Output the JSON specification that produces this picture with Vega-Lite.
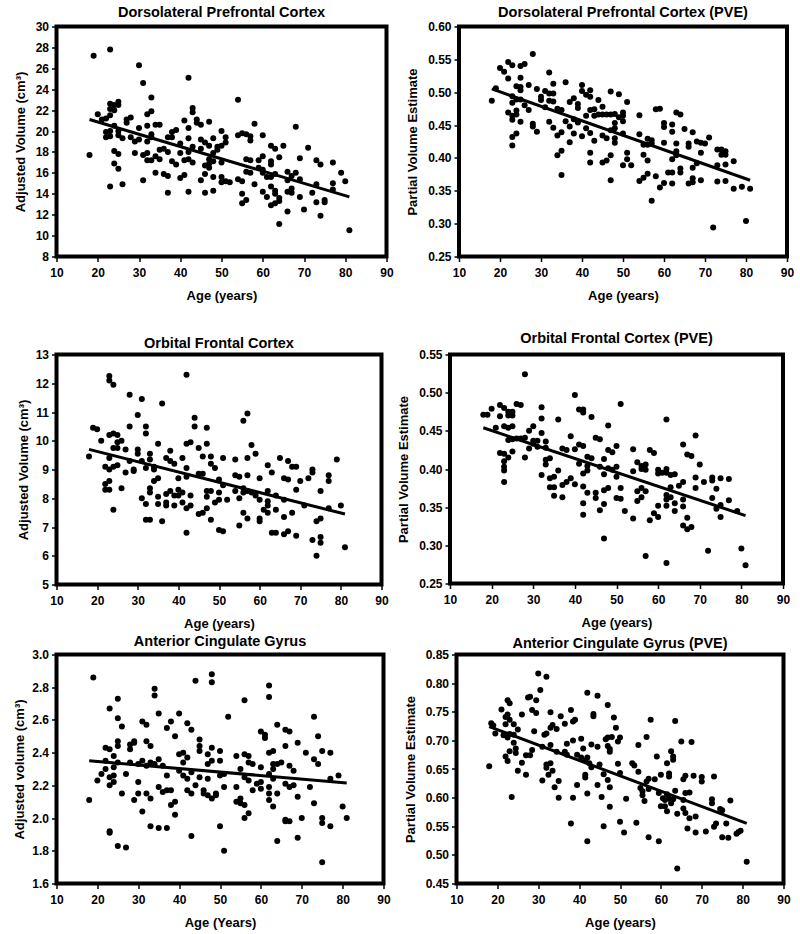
{
"$schema": "https://vega.github.io/schema/vega-lite/v6.json",
"padding": {"left": 10.5, "top": 2.5, "right": 5, "bottom": 5},
"config": {
 "font": "Liberation Sans",
 "view": {"stroke": "black", "strokeWidth": 4},
 "axis": {"domain": false, "grid": false, "tickColor": "black", "tickSize": 5, "tickWidth": 1.5, "labelColor": "black", "labelFontSize": 12, "labelFontWeight": "bold", "labelFont": "Liberation Sans", "titleFont": "Liberation Sans", "titleFontSize": 13, "titleFontWeight": "bold", "titleColor": "black", "labelFlush": false, "labelOverlap": false},
 "axisX": {"labelPadding": 6, "titlePadding": 11},
 "axisY": {"labelPadding": 3, "titlePadding": 8},
 "title": {"font": "Liberation Sans", "fontSize": 14.5, "fontWeight": "bold", "color": "black", "anchor": "middle", "frame": "group", "baseline": "alphabetic"}
},
"datasets": {
 "p1": [{"a":18,"v":17.7},{"a":19,"v":27.2},{"a":20,"v":21.6},{"a":21,"v":21.1},{"a":22,"v":21.2},{"a":22,"v":19.9},{"a":22,"v":19.4},{"a":23,"v":27.8},{"a":23,"v":22.6},{"a":23,"v":22.1},{"a":23,"v":21.5},{"a":23,"v":20.0},{"a":23,"v":19.5},{"a":23,"v":14.7},{"a":24,"v":22.5},{"a":24,"v":22.0},{"a":24,"v":20.5},{"a":24,"v":18.1},{"a":24,"v":16.9},{"a":25,"v":22.8},{"a":25,"v":22.5},{"a":25,"v":20.0},{"a":25,"v":19.6},{"a":25,"v":17.8},{"a":25,"v":16.4},{"a":26,"v":19.3},{"a":26,"v":14.9},{"a":27,"v":21.1},{"a":27,"v":20.8},{"a":28,"v":21.3},{"a":28,"v":19.4},{"a":29,"v":19.0},{"a":29,"v":17.9},{"a":30,"v":26.3},{"a":30,"v":20.3},{"a":30,"v":19.2},{"a":31,"v":24.6},{"a":31,"v":17.7},{"a":31,"v":15.3},{"a":32,"v":21.6},{"a":32,"v":20.5},{"a":32,"v":19.0},{"a":32,"v":17.9},{"a":32,"v":17.2},{"a":33,"v":23.2},{"a":33,"v":21.9},{"a":33,"v":19.7},{"a":33,"v":19.4},{"a":33,"v":17.2},{"a":34,"v":20.6},{"a":34,"v":17.6},{"a":34,"v":16.0},{"a":35,"v":20.6},{"a":35,"v":18.2},{"a":35,"v":17.3},{"a":36,"v":18.3},{"a":36,"v":15.9},{"a":37,"v":19.4},{"a":37,"v":18.0},{"a":37,"v":15.7},{"a":37,"v":14.1},{"a":38,"v":19.9},{"a":38,"v":19.4},{"a":38,"v":17.1},{"a":39,"v":20.1},{"a":39,"v":16.8},{"a":40,"v":18.8},{"a":40,"v":17.9},{"a":40,"v":15.5},{"a":41,"v":21.0},{"a":41,"v":17.2},{"a":41,"v":15.8},{"a":42,"v":25.1},{"a":42,"v":20.3},{"a":42,"v":19.3},{"a":42,"v":18.0},{"a":42,"v":17.3},{"a":42,"v":14.2},{"a":43,"v":22.2},{"a":43,"v":21.8},{"a":43,"v":18.5},{"a":43,"v":17.0},{"a":44,"v":21.1},{"a":44,"v":20.8},{"a":45,"v":20.6},{"a":45,"v":19.2},{"a":45,"v":18.3},{"a":45,"v":15.3},{"a":46,"v":18.9},{"a":46,"v":16.7},{"a":46,"v":15.9},{"a":46,"v":14.1},{"a":47,"v":20.9},{"a":47,"v":18.6},{"a":47,"v":17.3},{"a":47,"v":16.9},{"a":47,"v":16.5},{"a":48,"v":19.3},{"a":48,"v":17.9},{"a":48,"v":17.1},{"a":48,"v":15.6},{"a":48,"v":14.3},{"a":49,"v":18.2},{"a":49,"v":18.5},{"a":50,"v":20.0},{"a":50,"v":18.6},{"a":50,"v":17.0},{"a":50,"v":15.6},{"a":50,"v":15.1},{"a":51,"v":19.4},{"a":51,"v":18.9},{"a":51,"v":15.2},{"a":52,"v":15.1},{"a":54,"v":23.0},{"a":54,"v":19.6},{"a":54,"v":15.4},{"a":55,"v":19.8},{"a":55,"v":15.2},{"a":55,"v":14.0},{"a":55,"v":13.1},{"a":56,"v":19.7},{"a":56,"v":17.3},{"a":56,"v":16.1},{"a":56,"v":13.4},{"a":57,"v":19.5},{"a":57,"v":19.1},{"a":57,"v":17.2},{"a":57,"v":16.0},{"a":58,"v":20.7},{"a":58,"v":14.9},{"a":59,"v":17.2},{"a":59,"v":16.5},{"a":60,"v":19.6},{"a":60,"v":17.6},{"a":60,"v":16.3},{"a":60,"v":16.0},{"a":60,"v":14.2},{"a":61,"v":15.6},{"a":61,"v":13.7},{"a":62,"v":18.6},{"a":62,"v":17.1},{"a":62,"v":16.8},{"a":62,"v":15.6},{"a":62,"v":14.7},{"a":62,"v":12.9},{"a":63,"v":18.3},{"a":63,"v":15.9},{"a":63,"v":14.3},{"a":63,"v":14.0},{"a":63,"v":13.1},{"a":64,"v":17.5},{"a":64,"v":13.6},{"a":64,"v":13.3},{"a":64,"v":11.1},{"a":65,"v":18.6},{"a":66,"v":16.1},{"a":66,"v":15.3},{"a":66,"v":14.2},{"a":66,"v":12.3},{"a":67,"v":15.7},{"a":67,"v":14.5},{"a":67,"v":14.1},{"a":68,"v":20.4},{"a":68,"v":16.0},{"a":69,"v":17.4},{"a":69,"v":15.4},{"a":69,"v":13.7},{"a":70,"v":12.5},{"a":71,"v":18.4},{"a":72,"v":14.1},{"a":73,"v":17.2},{"a":73,"v":14.9},{"a":73,"v":13.2},{"a":74,"v":16.8},{"a":74,"v":11.9},{"a":75,"v":13.4},{"a":75,"v":13.2},{"a":77,"v":17.0},{"a":77,"v":15.0},{"a":77,"v":14.4},{"a":79,"v":16.0},{"a":80,"v":15.2},{"a":81,"v":10.5}],
 "p2": [{"a":18,"v":0.487},{"a":19,"v":0.506},{"a":20,"v":0.537},{"a":21,"v":0.531},{"a":22,"v":0.546},{"a":22,"v":0.521},{"a":22,"v":0.469},{"a":23,"v":0.541},{"a":23,"v":0.494},{"a":23,"v":0.484},{"a":23,"v":0.464},{"a":23,"v":0.458},{"a":23,"v":0.432},{"a":23,"v":0.419},{"a":24,"v":0.509},{"a":24,"v":0.489},{"a":24,"v":0.472},{"a":24,"v":0.466},{"a":24,"v":0.437},{"a":25,"v":0.540},{"a":25,"v":0.522},{"a":25,"v":0.508},{"a":25,"v":0.503},{"a":25,"v":0.489},{"a":25,"v":0.455},{"a":26,"v":0.543},{"a":26,"v":0.480},{"a":27,"v":0.511},{"a":27,"v":0.473},{"a":28,"v":0.558},{"a":28,"v":0.452},{"a":28,"v":0.448},{"a":29,"v":0.505},{"a":29,"v":0.440},{"a":30,"v":0.493},{"a":30,"v":0.488},{"a":31,"v":0.502},{"a":31,"v":0.477},{"a":32,"v":0.530},{"a":32,"v":0.498},{"a":32,"v":0.487},{"a":32,"v":0.455},{"a":33,"v":0.513},{"a":33,"v":0.498},{"a":33,"v":0.486},{"a":33,"v":0.446},{"a":34,"v":0.475},{"a":34,"v":0.434},{"a":34,"v":0.404},{"a":35,"v":0.473},{"a":35,"v":0.439},{"a":35,"v":0.411},{"a":35,"v":0.374},{"a":36,"v":0.515},{"a":36,"v":0.456},{"a":37,"v":0.485},{"a":37,"v":0.448},{"a":37,"v":0.424},{"a":38,"v":0.491},{"a":38,"v":0.459},{"a":38,"v":0.437},{"a":39,"v":0.482},{"a":39,"v":0.476},{"a":39,"v":0.454},{"a":40,"v":0.511},{"a":40,"v":0.502},{"a":40,"v":0.433},{"a":41,"v":0.496},{"a":41,"v":0.464},{"a":41,"v":0.445},{"a":42,"v":0.503},{"a":42,"v":0.493},{"a":42,"v":0.473},{"a":42,"v":0.438},{"a":42,"v":0.408},{"a":42,"v":0.393},{"a":43,"v":0.474},{"a":43,"v":0.464},{"a":43,"v":0.426},{"a":44,"v":0.488},{"a":44,"v":0.466},{"a":45,"v":0.478},{"a":45,"v":0.466},{"a":45,"v":0.434},{"a":45,"v":0.393},{"a":46,"v":0.466},{"a":46,"v":0.430},{"a":46,"v":0.396},{"a":47,"v":0.501},{"a":47,"v":0.466},{"a":47,"v":0.442},{"a":47,"v":0.404},{"a":47,"v":0.366},{"a":48,"v":0.467},{"a":48,"v":0.453},{"a":48,"v":0.445},{"a":48,"v":0.430},{"a":48,"v":0.423},{"a":49,"v":0.497},{"a":49,"v":0.462},{"a":50,"v":0.469},{"a":50,"v":0.464},{"a":50,"v":0.456},{"a":50,"v":0.437},{"a":50,"v":0.389},{"a":51,"v":0.485},{"a":51,"v":0.408},{"a":51,"v":0.398},{"a":52,"v":0.389},{"a":54,"v":0.465},{"a":54,"v":0.436},{"a":54,"v":0.365},{"a":55,"v":0.420},{"a":55,"v":0.405},{"a":55,"v":0.370},{"a":56,"v":0.429},{"a":56,"v":0.420},{"a":56,"v":0.396},{"a":56,"v":0.376},{"a":57,"v":0.427},{"a":57,"v":0.422},{"a":57,"v":0.335},{"a":58,"v":0.474},{"a":58,"v":0.372},{"a":59,"v":0.475},{"a":59,"v":0.355},{"a":60,"v":0.453},{"a":60,"v":0.447},{"a":60,"v":0.423},{"a":60,"v":0.362},{"a":61,"v":0.378},{"a":62,"v":0.451},{"a":62,"v":0.440},{"a":62,"v":0.398},{"a":62,"v":0.378},{"a":62,"v":0.361},{"a":63,"v":0.469},{"a":63,"v":0.422},{"a":63,"v":0.410},{"a":63,"v":0.404},{"a":64,"v":0.466},{"a":64,"v":0.384},{"a":64,"v":0.378},{"a":65,"v":0.444},{"a":66,"v":0.422},{"a":66,"v":0.417},{"a":66,"v":0.361},{"a":67,"v":0.439},{"a":67,"v":0.385},{"a":67,"v":0.369},{"a":67,"v":0.363},{"a":68,"v":0.425},{"a":68,"v":0.392},{"a":69,"v":0.423},{"a":69,"v":0.408},{"a":69,"v":0.366},{"a":70,"v":0.422},{"a":71,"v":0.431},{"a":72,"v":0.294},{"a":73,"v":0.413},{"a":73,"v":0.389},{"a":73,"v":0.364},{"a":74,"v":0.413},{"a":74,"v":0.405},{"a":75,"v":0.410},{"a":75,"v":0.405},{"a":75,"v":0.390},{"a":75,"v":0.365},{"a":77,"v":0.395},{"a":77,"v":0.353},{"a":79,"v":0.356},{"a":80,"v":0.304},{"a":81,"v":0.353}],
 "p3": [{"a":18,"v":9.45},{"a":19,"v":10.45},{"a":20,"v":10.4},{"a":21,"v":10.0},{"a":22,"v":9.1},{"a":22,"v":8.5},{"a":22,"v":8.3},{"a":23,"v":12.25},{"a":23,"v":12.1},{"a":23,"v":10.2},{"a":23,"v":9.4},{"a":23,"v":9.0},{"a":23,"v":8.6},{"a":23,"v":8.3},{"a":24,"v":11.95},{"a":24,"v":10.25},{"a":24,"v":9.75},{"a":24,"v":9.1},{"a":24,"v":7.6},{"a":25,"v":10.2},{"a":25,"v":9.95},{"a":25,"v":9.75},{"a":25,"v":9.15},{"a":26,"v":10.0},{"a":26,"v":8.35},{"a":27,"v":9.7},{"a":27,"v":8.9},{"a":28,"v":11.6},{"a":28,"v":10.5},{"a":28,"v":9.3},{"a":29,"v":9.0},{"a":29,"v":8.95},{"a":30,"v":10.9},{"a":30,"v":9.7},{"a":30,"v":9.55},{"a":31,"v":11.45},{"a":31,"v":9.3},{"a":31,"v":8.0},{"a":32,"v":10.5},{"a":32,"v":10.25},{"a":32,"v":9.05},{"a":32,"v":7.8},{"a":32,"v":7.25},{"a":33,"v":9.55},{"a":33,"v":9.35},{"a":33,"v":8.35},{"a":33,"v":8.2},{"a":33,"v":7.25},{"a":34,"v":9.1},{"a":34,"v":9.0},{"a":34,"v":8.6},{"a":35,"v":9.9},{"a":35,"v":8.7},{"a":35,"v":8.05},{"a":35,"v":7.8},{"a":36,"v":11.3},{"a":36,"v":7.2},{"a":37,"v":9.4},{"a":37,"v":8.15},{"a":37,"v":7.85},{"a":37,"v":7.75},{"a":38,"v":9.65},{"a":38,"v":9.3},{"a":38,"v":8.25},{"a":39,"v":9.2},{"a":39,"v":8.1},{"a":39,"v":7.75},{"a":40,"v":8.7},{"a":40,"v":8.3},{"a":40,"v":8.1},{"a":41,"v":8.2},{"a":41,"v":7.85},{"a":41,"v":9.4},{"a":42,"v":12.3},{"a":42,"v":9.9},{"a":42,"v":9.05},{"a":42,"v":8.75},{"a":42,"v":7.65},{"a":42,"v":6.8},{"a":43,"v":9.95},{"a":43,"v":8.1},{"a":43,"v":7.75},{"a":44,"v":10.8},{"a":44,"v":10.5},{"a":45,"v":9.75},{"a":45,"v":8.85},{"a":45,"v":7.45},{"a":46,"v":9.45},{"a":46,"v":8.85},{"a":46,"v":7.5},{"a":47,"v":10.45},{"a":47,"v":9.9},{"a":47,"v":8.25},{"a":47,"v":8.05},{"a":47,"v":7.65},{"a":48,"v":9.45},{"a":48,"v":9.2},{"a":48,"v":8.25},{"a":48,"v":7.25},{"a":49,"v":9.05},{"a":49,"v":7.85},{"a":50,"v":8.65},{"a":50,"v":8.2},{"a":50,"v":7.95},{"a":50,"v":6.9},{"a":51,"v":9.4},{"a":51,"v":8.45},{"a":51,"v":6.85},{"a":52,"v":7.95},{"a":54,"v":9.35},{"a":54,"v":8.8},{"a":54,"v":8.25},{"a":55,"v":8.75},{"a":55,"v":8.0},{"a":55,"v":7.05},{"a":56,"v":10.7},{"a":56,"v":8.35},{"a":56,"v":8.2},{"a":56,"v":7.5},{"a":57,"v":10.95},{"a":57,"v":9.4},{"a":57,"v":8.8},{"a":57,"v":8.25},{"a":57,"v":7.3},{"a":58,"v":9.85},{"a":58,"v":8.2},{"a":59,"v":9.55},{"a":59,"v":8.1},{"a":60,"v":8.7},{"a":60,"v":7.95},{"a":60,"v":7.3},{"a":60,"v":7.2},{"a":61,"v":7.6},{"a":62,"v":9.15},{"a":62,"v":8.25},{"a":62,"v":7.9},{"a":62,"v":7.75},{"a":62,"v":7.5},{"a":63,"v":8.9},{"a":63,"v":6.8},{"a":64,"v":8.1},{"a":64,"v":7.6},{"a":64,"v":6.8},{"a":65,"v":9.4},{"a":66,"v":8.7},{"a":66,"v":7.95},{"a":66,"v":7.35},{"a":66,"v":6.75},{"a":67,"v":9.3},{"a":67,"v":8.65},{"a":67,"v":6.85},{"a":68,"v":9.1},{"a":68,"v":7.5},{"a":69,"v":9.1},{"a":69,"v":8.3},{"a":69,"v":6.7},{"a":70,"v":8.6},{"a":71,"v":7.75},{"a":72,"v":8.7},{"a":73,"v":9.0},{"a":73,"v":8.9},{"a":73,"v":6.55},{"a":74,"v":7.2},{"a":74,"v":6.0},{"a":75,"v":8.25},{"a":75,"v":7.3},{"a":75,"v":6.65},{"a":75,"v":6.45},{"a":77,"v":8.8},{"a":77,"v":8.6},{"a":77,"v":7.65},{"a":79,"v":9.35},{"a":80,"v":7.75},{"a":81,"v":6.3}],
 "p4": [{"a":18,"v":0.471},{"a":19,"v":0.471},{"a":20,"v":0.479},{"a":21,"v":0.454},{"a":22,"v":0.484},{"a":22,"v":0.469},{"a":22,"v":0.421},{"a":23,"v":0.480},{"a":23,"v":0.456},{"a":23,"v":0.420},{"a":23,"v":0.410},{"a":23,"v":0.403},{"a":23,"v":0.398},{"a":23,"v":0.383},{"a":24,"v":0.475},{"a":24,"v":0.470},{"a":24,"v":0.454},{"a":24,"v":0.438},{"a":24,"v":0.415},{"a":25,"v":0.475},{"a":25,"v":0.470},{"a":25,"v":0.456},{"a":25,"v":0.439},{"a":25,"v":0.423},{"a":26,"v":0.485},{"a":26,"v":0.440},{"a":27,"v":0.484},{"a":27,"v":0.440},{"a":28,"v":0.524},{"a":28,"v":0.441},{"a":28,"v":0.415},{"a":29,"v":0.450},{"a":29,"v":0.427},{"a":30,"v":0.456},{"a":30,"v":0.437},{"a":30,"v":0.433},{"a":31,"v":0.437},{"a":31,"v":0.429},{"a":32,"v":0.481},{"a":32,"v":0.466},{"a":32,"v":0.447},{"a":32,"v":0.392},{"a":33,"v":0.436},{"a":33,"v":0.428},{"a":33,"v":0.412},{"a":33,"v":0.406},{"a":34,"v":0.414},{"a":34,"v":0.388},{"a":34,"v":0.376},{"a":35,"v":0.390},{"a":35,"v":0.376},{"a":35,"v":0.365},{"a":36,"v":0.465},{"a":36,"v":0.398},{"a":37,"v":0.427},{"a":37,"v":0.379},{"a":37,"v":0.363},{"a":38,"v":0.425},{"a":38,"v":0.383},{"a":39,"v":0.443},{"a":39,"v":0.388},{"a":40,"v":0.497},{"a":40,"v":0.426},{"a":40,"v":0.380},{"a":41,"v":0.478},{"a":41,"v":0.432},{"a":41,"v":0.407},{"a":42,"v":0.478},{"a":42,"v":0.474},{"a":42,"v":0.430},{"a":42,"v":0.394},{"a":42,"v":0.377},{"a":42,"v":0.355},{"a":42,"v":0.340},{"a":43,"v":0.416},{"a":43,"v":0.404},{"a":43,"v":0.398},{"a":43,"v":0.369},{"a":44,"v":0.468},{"a":44,"v":0.414},{"a":45,"v":0.441},{"a":45,"v":0.369},{"a":45,"v":0.362},{"a":46,"v":0.439},{"a":46,"v":0.403},{"a":46,"v":0.346},{"a":47,"v":0.413},{"a":47,"v":0.393},{"a":47,"v":0.372},{"a":47,"v":0.354},{"a":47,"v":0.309},{"a":48,"v":0.457},{"a":48,"v":0.425},{"a":48,"v":0.401},{"a":48,"v":0.375},{"a":49,"v":0.422},{"a":49,"v":0.399},{"a":50,"v":0.430},{"a":50,"v":0.403},{"a":50,"v":0.390},{"a":50,"v":0.362},{"a":51,"v":0.485},{"a":51,"v":0.375},{"a":51,"v":0.361},{"a":52,"v":0.345},{"a":54,"v":0.426},{"a":54,"v":0.397},{"a":54,"v":0.335},{"a":55,"v":0.409},{"a":55,"v":0.371},{"a":55,"v":0.358},{"a":56,"v":0.404},{"a":56,"v":0.400},{"a":56,"v":0.375},{"a":56,"v":0.363},{"a":57,"v":0.406},{"a":57,"v":0.399},{"a":57,"v":0.371},{"a":57,"v":0.286},{"a":58,"v":0.425},{"a":58,"v":0.333},{"a":59,"v":0.421},{"a":59,"v":0.342},{"a":60,"v":0.399},{"a":60,"v":0.394},{"a":60,"v":0.352},{"a":60,"v":0.337},{"a":61,"v":0.395},{"a":62,"v":0.465},{"a":62,"v":0.400},{"a":62,"v":0.395},{"a":62,"v":0.366},{"a":62,"v":0.360},{"a":62,"v":0.352},{"a":62,"v":0.277},{"a":63,"v":0.392},{"a":63,"v":0.376},{"a":63,"v":0.363},{"a":64,"v":0.393},{"a":64,"v":0.355},{"a":64,"v":0.345},{"a":65,"v":0.378},{"a":66,"v":0.432},{"a":66,"v":0.383},{"a":66,"v":0.360},{"a":66,"v":0.351},{"a":66,"v":0.326},{"a":67,"v":0.419},{"a":67,"v":0.336},{"a":67,"v":0.321},{"a":68,"v":0.417},{"a":68,"v":0.324},{"a":69,"v":0.444},{"a":69,"v":0.389},{"a":69,"v":0.375},{"a":70,"v":0.406},{"a":71,"v":0.383},{"a":72,"v":0.293},{"a":73,"v":0.389},{"a":73,"v":0.385},{"a":73,"v":0.362},{"a":74,"v":0.374},{"a":74,"v":0.348},{"a":75,"v":0.388},{"a":75,"v":0.353},{"a":75,"v":0.337},{"a":77,"v":0.387},{"a":77,"v":0.359},{"a":79,"v":0.345},{"a":80,"v":0.296},{"a":81,"v":0.274}],
 "p5": [{"a":18,"v":2.11},{"a":19,"v":2.86},{"a":20,"v":2.23},{"a":21,"v":2.27},{"a":22,"v":2.43},{"a":22,"v":2.35},{"a":22,"v":2.30},{"a":23,"v":2.67},{"a":23,"v":2.42},{"a":23,"v":2.25},{"a":23,"v":2.20},{"a":23,"v":1.92},{"a":23,"v":1.91},{"a":24,"v":2.38},{"a":24,"v":2.31},{"a":24,"v":2.26},{"a":24,"v":2.22},{"a":25,"v":2.73},{"a":25,"v":2.61},{"a":25,"v":2.47},{"a":25,"v":2.44},{"a":25,"v":2.34},{"a":25,"v":1.83},{"a":26,"v":2.56},{"a":26,"v":2.15},{"a":27,"v":2.27},{"a":27,"v":1.82},{"a":28,"v":2.45},{"a":28,"v":2.42},{"a":28,"v":2.34},{"a":29,"v":2.47},{"a":29,"v":2.46},{"a":29,"v":2.11},{"a":30,"v":2.33},{"a":30,"v":2.22},{"a":30,"v":2.15},{"a":31,"v":2.59},{"a":31,"v":2.35},{"a":31,"v":2.04},{"a":32,"v":2.57},{"a":32,"v":2.47},{"a":32,"v":2.32},{"a":32,"v":2.15},{"a":33,"v":2.44},{"a":33,"v":2.34},{"a":33,"v":2.12},{"a":33,"v":1.95},{"a":34,"v":2.79},{"a":34,"v":2.75},{"a":34,"v":2.33},{"a":35,"v":2.64},{"a":35,"v":2.36},{"a":35,"v":2.19},{"a":35,"v":1.94},{"a":36,"v":2.32},{"a":36,"v":2.16},{"a":37,"v":2.55},{"a":37,"v":2.26},{"a":37,"v":2.17},{"a":37,"v":1.94},{"a":38,"v":2.59},{"a":38,"v":2.17},{"a":38,"v":2.08},{"a":39,"v":2.50},{"a":39,"v":2.10},{"a":39,"v":2.02},{"a":40,"v":2.64},{"a":40,"v":2.39},{"a":40,"v":2.29},{"a":41,"v":2.40},{"a":41,"v":2.34},{"a":41,"v":2.26},{"a":42,"v":2.58},{"a":42,"v":2.37},{"a":42,"v":2.24},{"a":42,"v":2.17},{"a":43,"v":2.54},{"a":43,"v":2.28},{"a":43,"v":2.15},{"a":43,"v":1.89},{"a":44,"v":2.84},{"a":44,"v":2.20},{"a":45,"v":2.48},{"a":45,"v":2.44},{"a":45,"v":2.41},{"a":45,"v":2.25},{"a":46,"v":2.17},{"a":46,"v":2.15},{"a":47,"v":2.39},{"a":47,"v":2.33},{"a":47,"v":2.24},{"a":47,"v":2.14},{"a":48,"v":2.88},{"a":48,"v":2.83},{"a":48,"v":2.43},{"a":48,"v":2.35},{"a":48,"v":2.12},{"a":49,"v":2.15},{"a":49,"v":2.14},{"a":50,"v":2.41},{"a":50,"v":2.35},{"a":50,"v":2.26},{"a":50,"v":1.95},{"a":51,"v":2.27},{"a":51,"v":2.19},{"a":51,"v":1.80},{"a":52,"v":2.62},{"a":54,"v":2.38},{"a":54,"v":2.19},{"a":54,"v":2.10},{"a":55,"v":2.30},{"a":55,"v":2.12},{"a":55,"v":2.09},{"a":56,"v":2.72},{"a":56,"v":2.39},{"a":56,"v":2.25},{"a":56,"v":2.08},{"a":56,"v":2.00},{"a":57,"v":2.38},{"a":57,"v":2.34},{"a":57,"v":2.23},{"a":57,"v":2.03},{"a":58,"v":2.33},{"a":58,"v":2.17},{"a":59,"v":2.21},{"a":60,"v":2.53},{"a":60,"v":2.31},{"a":60,"v":2.22},{"a":60,"v":2.18},{"a":61,"v":2.51},{"a":61,"v":2.49},{"a":62,"v":2.81},{"a":62,"v":2.74},{"a":62,"v":2.40},{"a":62,"v":2.27},{"a":62,"v":2.19},{"a":62,"v":2.15},{"a":62,"v":2.11},{"a":63,"v":2.41},{"a":63,"v":2.33},{"a":63,"v":2.30},{"a":63,"v":2.24},{"a":63,"v":2.07},{"a":64,"v":2.57},{"a":64,"v":2.33},{"a":64,"v":2.15},{"a":64,"v":1.86},{"a":65,"v":2.34},{"a":66,"v":2.54},{"a":66,"v":2.44},{"a":66,"v":2.21},{"a":66,"v":1.99},{"a":66,"v":1.98},{"a":67,"v":2.53},{"a":67,"v":2.32},{"a":67,"v":2.19},{"a":67,"v":1.98},{"a":68,"v":2.29},{"a":68,"v":2.20},{"a":69,"v":2.46},{"a":69,"v":2.13},{"a":69,"v":1.88},{"a":70,"v":2.00},{"a":71,"v":2.40},{"a":72,"v":2.19},{"a":73,"v":2.62},{"a":73,"v":2.36},{"a":73,"v":2.09},{"a":74,"v":2.50},{"a":74,"v":2.33},{"a":75,"v":2.41},{"a":75,"v":2.00},{"a":75,"v":1.97},{"a":75,"v":1.73},{"a":77,"v":2.40},{"a":77,"v":2.24},{"a":77,"v":1.95},{"a":79,"v":2.26},{"a":80,"v":2.07},{"a":81,"v":2.00}],
 "p6": [{"a":18,"v":0.655},{"a":18.5,"v":0.730},{"a":19,"v":0.726},{"a":19.5,"v":0.712},{"a":21,"v":0.754},{"a":21.5,"v":0.709},{"a":22,"v":0.741},{"a":22,"v":0.728},{"a":22,"v":0.672},{"a":22.5,"v":0.770},{"a":22.5,"v":0.745},{"a":22.5,"v":0.705},{"a":22.5,"v":0.664},{"a":23,"v":0.765},{"a":23,"v":0.736},{"a":23,"v":0.711},{"a":23,"v":0.681},{"a":23.5,"v":0.601},{"a":24,"v":0.728},{"a":24,"v":0.710},{"a":24,"v":0.696},{"a":24.5,"v":0.686},{"a":24.5,"v":0.678},{"a":25,"v":0.719},{"a":25,"v":0.647},{"a":26,"v":0.745},{"a":26,"v":0.661},{"a":27,"v":0.674},{"a":27,"v":0.640},{"a":27.5,"v":0.775},{"a":28,"v":0.776},{"a":28,"v":0.674},{"a":28.5,"v":0.753},{"a":28.5,"v":0.683},{"a":29,"v":0.716},{"a":29.5,"v":0.770},{"a":29.5,"v":0.748},{"a":30,"v":0.817},{"a":30.5,"v":0.788},{"a":31,"v":0.689},{"a":31,"v":0.630},{"a":31.5,"v":0.710},{"a":32,"v":0.811},{"a":32,"v":0.712},{"a":32,"v":0.658},{"a":32,"v":0.652},{"a":32.5,"v":0.640},{"a":33,"v":0.749},{"a":33,"v":0.722},{"a":33,"v":0.692},{"a":33,"v":0.660},{"a":33.5,"v":0.727},{"a":33.5,"v":0.647},{"a":34,"v":0.618},{"a":34.5,"v":0.720},{"a":34.5,"v":0.680},{"a":35,"v":0.629},{"a":35,"v":0.600},{"a":35.5,"v":0.742},{"a":36.5,"v":0.729},{"a":36.5,"v":0.680},{"a":37,"v":0.694},{"a":37,"v":0.675},{"a":38,"v":0.753},{"a":38,"v":0.555},{"a":38.5,"v":0.733},{"a":38.5,"v":0.700},{"a":38.5,"v":0.600},{"a":39,"v":0.736},{"a":39.5,"v":0.675},{"a":39.5,"v":0.622},{"a":40.5,"v":0.703},{"a":40.5,"v":0.670},{"a":41,"v":0.686},{"a":41.5,"v":0.665},{"a":41.5,"v":0.640},{"a":41.5,"v":0.635},{"a":42,"v":0.783},{"a":42,"v":0.670},{"a":42,"v":0.607},{"a":42,"v":0.524},{"a":42.5,"v":0.660},{"a":43,"v":0.693},{"a":43,"v":0.653},{"a":43.5,"v":0.746},{"a":43.5,"v":0.742},{"a":44.5,"v":0.778},{"a":44.5,"v":0.689},{"a":44.5,"v":0.622},{"a":45,"v":0.658},{"a":45.5,"v":0.601},{"a":46,"v":0.641},{"a":46,"v":0.550},{"a":46.5,"v":0.702},{"a":47,"v":0.762},{"a":47,"v":0.705},{"a":47,"v":0.690},{"a":47,"v":0.631},{"a":47.5,"v":0.685},{"a":47.5,"v":0.680},{"a":47.5,"v":0.618},{"a":47.5,"v":0.584},{"a":48,"v":0.706},{"a":48.5,"v":0.740},{"a":49,"v":0.722},{"a":49.5,"v":0.698},{"a":49.5,"v":0.659},{"a":50,"v":0.705},{"a":50,"v":0.643},{"a":50,"v":0.558},{"a":51,"v":0.539},{"a":51.5,"v":0.598},{"a":53,"v":0.660},{"a":53.5,"v":0.656},{"a":54,"v":0.556},{"a":54.5,"v":0.645},{"a":54.5,"v":0.692},{"a":55,"v":0.617},{"a":55.5,"v":0.611},{"a":55.5,"v":0.604},{"a":56,"v":0.594},{"a":56.5,"v":0.706},{"a":56.5,"v":0.628},{"a":57,"v":0.633},{"a":57,"v":0.615},{"a":57,"v":0.531},{"a":57.5,"v":0.736},{"a":58.5,"v":0.632},{"a":59,"v":0.672},{"a":59.5,"v":0.608},{"a":59.5,"v":0.524},{"a":60,"v":0.640},{"a":60,"v":0.585},{"a":60.5,"v":0.599},{"a":61,"v":0.596},{"a":61,"v":0.585},{"a":61.5,"v":0.660},{"a":61.5,"v":0.606},{"a":61.5,"v":0.576},{"a":62,"v":0.642},{"a":62,"v":0.637},{"a":62,"v":0.598},{"a":62.5,"v":0.681},{"a":62.5,"v":0.590},{"a":63,"v":0.672},{"a":63,"v":0.666},{"a":63,"v":0.597},{"a":63.5,"v":0.734},{"a":63.5,"v":0.612},{"a":64,"v":0.572},{"a":64,"v":0.476},{"a":65,"v":0.698},{"a":65.5,"v":0.632},{"a":65.5,"v":0.596},{"a":65.5,"v":0.581},{"a":66,"v":0.638},{"a":66,"v":0.608},{"a":66,"v":0.573},{"a":66.5,"v":0.546},{"a":67,"v":0.609},{"a":67,"v":0.564},{"a":67.5,"v":0.697},{"a":68,"v":0.638},{"a":68.5,"v":0.567},{"a":68.5,"v":0.539},{"a":70,"v":0.636},{"a":70,"v":0.628},{"a":71,"v":0.541},{"a":72.5,"v":0.597},{"a":72.5,"v":0.590},{"a":73,"v":0.637},{"a":73,"v":0.549},{"a":73.5,"v":0.555},{"a":74.5,"v":0.580},{"a":75,"v":0.578},{"a":75,"v":0.531},{"a":76,"v":0.555},{"a":76.5,"v":0.530},{"a":77,"v":0.595},{"a":78.5,"v":0.537},{"a":79,"v":0.540},{"a":79.5,"v":0.542},{"a":81,"v":0.488}],
 "l1": [{"a":18,"v":21.1},{"a":81,"v":13.7}],
 "l2": [{"a":18,"v":0.505},{"a":81,"v":0.366}],
 "l3": [{"a":18,"v":9.7},{"a":81,"v":7.45}],
 "l4": [{"a":18,"v":0.454},{"a":81,"v":0.339}],
 "l5": [{"a":18,"v":2.35},{"a":81,"v":2.215}],
 "l6": [{"a":18,"v":0.724},{"a":81,"v":0.555}]
},
"spacing": 24,
"vconcat": [
 {"hconcat": [
  {"width": 330, "height": 230, "title": {"text": "Dorsolateral Prefrontal Cortex", "offset": 0},
   "encoding": {"x": {"field": "a", "type": "quantitative", "scale": {"domain": [10, 90]}, "axis": {"values": [10,20,30,40,50,60,70,80,90], "title": "Age (years)"}},
                "y": {"field": "v", "type": "quantitative", "scale": {"domain": [8, 30]}, "axis": {"values": [8,10,12,14,16,18,20,22,24,26,28,30], "format": "d", "title": "Adjusted Volume (cm³)"}}},
   "layer": [{"data": {"name": "p1"}, "mark": {"type": "circle", "size": 36, "color": "black", "opacity": 1}},
             {"data": {"name": "l1"}, "mark": {"type": "line", "color": "black", "strokeWidth": 3}}]},
  {"width": 328, "height": 230, "title": {"text": "Dorsolateral Prefrontal Cortex (PVE)", "offset": 0},
   "encoding": {"x": {"field": "a", "type": "quantitative", "scale": {"domain": [10, 90]}, "axis": {"values": [10,20,30,40,50,60,70,80,90], "title": "Age (years)"}},
                "y": {"field": "v", "type": "quantitative", "scale": {"domain": [0.25, 0.6]}, "axis": {"values": [0.25,0.3,0.35,0.4,0.45,0.5,0.55,0.6], "format": ".2f", "title": "Partial Volume Estimate"}}},
   "layer": [{"data": {"name": "p2"}, "mark": {"type": "circle", "size": 36, "color": "black", "opacity": 1}},
             {"data": {"name": "l2"}, "mark": {"type": "line", "color": "black", "strokeWidth": 3}}]}
 ], "spacing": 8.5},
 {"spacing": -1, "vconcat": [
  {"hconcat": [
   {"width": 325, "height": 230, "title": {"text": "Orbital Frontal Cortex", "offset": -3},
    "encoding": {"x": {"field": "a", "type": "quantitative", "scale": {"domain": [10, 90]}, "axis": {"values": [10,20,30,40,50,60,70,80,90], "title": "Age (years)"}},
                 "y": {"field": "v", "type": "quantitative", "scale": {"domain": [5, 13]}, "axis": {"values": [5,6,7,8,9,10,11,12,13], "format": "d", "title": "Adjusted Volume (cm³)", "titlePadding": 4.5}}},
    "layer": [{"data": {"name": "p3"}, "mark": {"type": "circle", "size": 36, "color": "black", "opacity": 1}},
              {"data": {"name": "l3"}, "mark": {"type": "line", "color": "black", "strokeWidth": 3}}]},
   {"width": 333, "height": 229, "title": {"text": "Orbital Frontal Cortex (PVE)", "offset": 2},
    "encoding": {"x": {"field": "a", "type": "quantitative", "scale": {"domain": [10, 90]}, "axis": {"values": [10,20,30,40,50,60,70,80,90], "title": "Age (years)"}},
                 "y": {"field": "v", "type": "quantitative", "scale": {"domain": [0.25, 0.55]}, "axis": {"values": [0.25,0.3,0.35,0.4,0.45,0.5,0.55], "format": ".2f", "title": "Partial Volume Estimate"}}},
    "layer": [{"data": {"name": "p4"}, "mark": {"type": "circle", "size": 36, "color": "black", "opacity": 1}},
              {"data": {"name": "l4"}, "mark": {"type": "line", "color": "black", "strokeWidth": 3}}]}
  ], "spacing": 4.5},
  {"hconcat": [
   {"width": 327, "height": 229, "title": {"text": "Anterior Cingulate Gyrus", "offset": -1},
    "encoding": {"x": {"field": "a", "type": "quantitative", "scale": {"domain": [10, 90]}, "axis": {"values": [10,20,30,40,50,60,70,80,90], "title": "Age (Years)"}},
                 "y": {"field": "v", "type": "quantitative", "scale": {"domain": [1.6, 3.0]}, "axis": {"values": [1.6,1.8,2.0,2.2,2.4,2.6,2.8,3.0], "format": ".1f", "title": "Adjusted volume (cm³)", "titlePadding": 5.5}}},
    "layer": [{"data": {"name": "p5"}, "mark": {"type": "circle", "size": 36, "color": "black", "opacity": 1}},
              {"data": {"name": "l5"}, "mark": {"type": "line", "color": "black", "strokeWidth": 3}}]},
   {"width": 327, "height": 229, "title": {"text": "Anterior Cingulate Gyrus (PVE)", "offset": -3},
    "encoding": {"x": {"field": "a", "type": "quantitative", "scale": {"domain": [10, 90]}, "axis": {"values": [10,20,30,40,50,60,70,80,90], "title": "Age (years)"}},
                 "y": {"field": "v", "type": "quantitative", "scale": {"domain": [0.45, 0.85]}, "axis": {"values": [0.45,0.5,0.55,0.6,0.65,0.7,0.75,0.8,0.85], "format": ".2f", "title": "Partial Volume Estimate"}}},
    "layer": [{"data": {"name": "p6"}, "mark": {"type": "circle", "size": 36, "color": "black", "opacity": 1}},
              {"data": {"name": "l6"}, "mark": {"type": "line", "color": "black", "strokeWidth": 3}}]}
  ], "spacing": 9}
 ]}
]
}
